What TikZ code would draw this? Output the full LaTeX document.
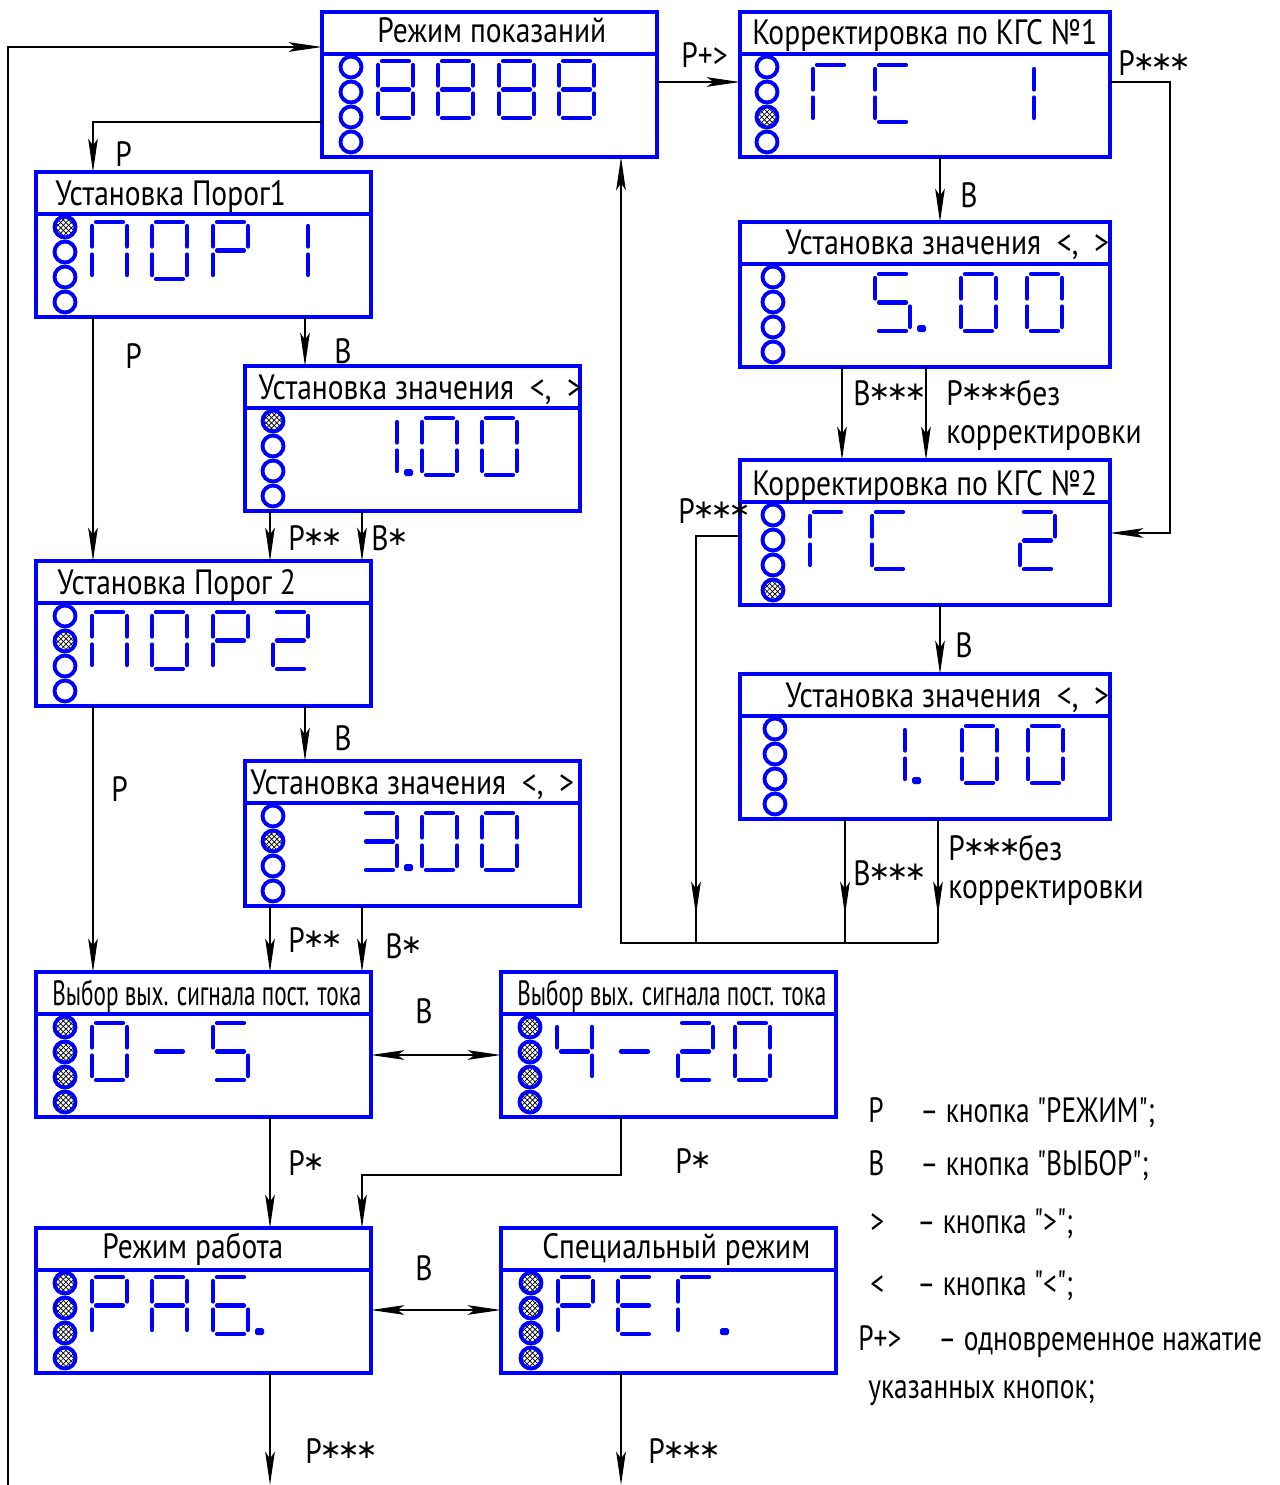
\documentclass[tikz,border=0pt]{standalone}
\usepackage{fontspec}
\setmainfont{PT Sans}[FakeStretch=0.84]
\newfontfamily\narrowfont{PT Sans}[FakeStretch=0.66]
\newfontfamily\legendfont{PT Sans}[FakeStretch=0.78]
\newfontfamily\starfont{DejaVu Sans}
\usetikzlibrary{arrows.meta,patterns,decorations.markings}

\newcommand{\sega}{\draw[seg] (4,0) -- (31,0);}
\newcommand{\segb}{\draw[seg] (35,4) -- (35,24.5);}
\newcommand{\segc}{\draw[seg] (35,32.5) -- (35,53);}
\newcommand{\segd}{\draw[seg] (4,57) -- (31,57);}
\newcommand{\sege}{\draw[seg] (0,32.5) -- (0,53);}
\newcommand{\segf}{\draw[seg] (0,4) -- (0,24.5);}
\newcommand{\segg}{\draw[seg] (4,28.5) -- (31,28.5);}
\newcommand{\segp}{\fill[blue,rounded corners=1pt] (42,51) rectangle (51,58);}
\newcommand{\segdigit}[3]{\begin{scope}[shift={(#1,#2)}]
  \foreach \s in {#3}{\csname seg\s\endcsname}\end{scope}}
\newcommand{\panel}[7]{%
  \node[panel,minimum width=#4] (#1) at (#2,#3) {};
  \draw[panel rule] ([yshift=-0.84cm]#1.north west) -- ([yshift=-0.84cm]#1.north east);
  \node[title] (#1-t) at ([xshift=#5,yshift=#6]#1.north west) {#7};}
\newcommand{\leds}[3]{%
  \foreach \st [count=\i] in {#3}
    \node[led\st] (#1-l\i) at ([xshift=#2,yshift=-0.6cm-\i*0.5cm]#1.north west) {};}
\newcommand{\astr}{{\starfont\fontsize{15}{15}\selectfont\kern-1.2pt\raisebox{2.5pt}{∗}\kern-1.2pt}}

\begin{document}
\begin{tikzpicture}[x=0.02cm,y=-0.02cm,
    panel/.style={draw=blue,line width=1.8pt,rectangle,anchor=north west,minimum height=2.9cm,outer sep=0pt,inner sep=0pt},
    panel rule/.style={blue,line width=1.8pt},
    title/.style={anchor=base west,inner sep=0pt,font=\fontsize{20}{22}\selectfont},
    seg/.style={blue,line width=2.4pt,line cap=round},
    led0/.style={circle,draw=blue,line width=2.2pt,minimum size=0.42cm,inner sep=0pt,fill=white},
    led1/.style={led0,pattern=crosshatch},
    wire/.style={line width=0.7pt},
    arr/.style={wire,-{Stealth[length=19pt,width=5.5pt,inset=4pt]}},
    dblarr/.style={wire,{Stealth[length=19pt,width=5.5pt,inset=4pt]}-{Stealth[length=19pt,width=5.5pt,inset=4pt]}},
    midtip/.style={wire,postaction=decorate,decoration={markings,mark=at position -0.56cm with {\arrow{Stealth[length=19pt,width=5.5pt,inset=4pt]}}}},
    lbl/.style={anchor=base west,inner sep=0pt,font=\fontsize{20}{22}\selectfont},
    key/.style={lbl,font=\fontsize{20}{22}\legendfont}]
  \useasboundingbox (0,0) rectangle (1279,1485);

  \panel{b1}{322}{12}{6.7cm}{1.1cm}{-0.6cm}{Режим показаний}
  \panel{b2}{740}{12}{7.4cm}{0.24cm}{-0.64cm}{Корректировка по КГС №1}
  \panel{b3}{36}{172}{6.7cm}{0.38cm}{-0.66cm}{Установка Порог1}
  \panel{b4}{245}{366}{6.7cm}{0.26cm}{-0.66cm}{Установка значения \ <, \ >}
  \panel{b5}{740}{222}{7.4cm}{0.9cm}{-0.64cm}{Установка значения \ <, \ >}
  \panel{b6}{740}{460}{7.4cm}{0.24cm}{-0.7cm}{Корректировка по КГС №2}
  \panel{b7}{36}{561}{6.7cm}{0.42cm}{-0.66cm}{Установка Порог 2}
  \panel{b8}{740}{674}{7.4cm}{0.9cm}{-0.66cm}{Установка значения \ <, \ >}
  \panel{b9}{245}{761}{6.7cm}{0.1cm}{-0.66cm}{Установка значения \ <, \ >}
  \panel{b10}{36}{972}{6.7cm}{0.32cm}{-0.66cm}{\narrowfont Выбор вых. сигнала пост. тока}
  \panel{b11}{501}{972}{6.7cm}{0.32cm}{-0.66cm}{\narrowfont Выбор вых. сигнала пост. тока}
  \panel{b12}{36}{1228}{6.7cm}{1.32cm}{-0.6cm}{Режим работа}
  \panel{b13}{501}{1228}{6.7cm}{0.82cm}{-0.6cm}{Специальный режим}

  \leds{b1}{0.58cm}{0,0,0,0}
  \leds{b2}{0.54cm}{0,0,1,0}
  \leds{b3}{0.58cm}{1,0,0,0}
  \leds{b4}{0.56cm}{1,0,0,0}
  \leds{b5}{0.66cm}{0,0,0,0}
  \leds{b6}{0.66cm}{0,0,0,1}
  \leds{b7}{0.58cm}{0,1,0,0}
  \leds{b8}{0.7cm}{0,0,0,0}
  \leds{b9}{0.56cm}{0,1,0,0}
  \leds{b10}{0.58cm}{1,1,1,1}
  \leds{b11}{0.58cm}{1,1,1,1}
  \leds{b12}{0.58cm}{1,1,1,1}
  \leds{b13}{0.6cm}{1,1,1,1}

  \segdigit{378}{61}{a,b,c,d,e,f,g}
  \segdigit{438}{61}{a,b,c,d,e,f,g}
  \segdigit{499}{61}{a,b,c,d,e,f,g}
  \segdigit{559}{61}{a,b,c,d,e,f,g}
  \segdigit{813}{65}{a,f,e}
  \segdigit{875}{65}{a,f,e,d}
  \segdigit{999}{65}{b,c}
  \segdigit{92}{222}{a,b,c,e,f}
  \segdigit{152}{222}{a,b,c,d,e,f}
  \segdigit{213}{222}{a,b,f,g,e}
  \segdigit{273}{222}{b,c}
  \segdigit{362}{418}{b,c,p}
  \segdigit{422}{418}{a,b,c,d,e,f}
  \segdigit{482}{418}{a,b,c,d,e,f}
  \segdigit{875}{274}{a,f,g,c,d,p}
  \segdigit{961}{274}{a,b,c,d,e,f}
  \segdigit{1027}{274}{a,b,c,d,e,f}
  \segdigit{810}{512}{a,f,e}
  \segdigit{872}{512}{a,f,e,d}
  \segdigit{1020}{512}{a,b,g,e,d}
  \segdigit{92}{612}{a,b,c,e,f}
  \segdigit{152}{612}{a,b,c,d,e,f}
  \segdigit{213}{612}{a,b,f,g,e}
  \segdigit{273}{612}{a,b,g,e,d}
  \segdigit{870}{726}{b,c,p}
  \segdigit{962}{726}{a,b,c,d,e,f}
  \segdigit{1028}{726}{a,b,c,d,e,f}
  \segdigit{362}{813}{a,b,g,c,d,p}
  \segdigit{422}{813}{a,b,c,d,e,f}
  \segdigit{482}{813}{a,b,c,d,e,f}
  \segdigit{92}{1023}{a,b,c,d,e,f}
  \segdigit{152}{1023}{g}
  \segdigit{213}{1023}{a,f,g,c,d}
  \segdigit{557}{1023}{f,g,b,c}
  \segdigit{617}{1023}{g}
  \segdigit{678}{1023}{a,b,g,e,d}
  \segdigit{735}{1023}{a,b,c,d,e,f}
  \segdigit{92}{1277}{a,b,f,g,e}
  \segdigit{152}{1277}{a,b,c,e,f,g}
  \segdigit{213}{1277}{a,f,g,e,d,c,p}
  \segdigit{558}{1277}{a,b,f,g,e}
  \segdigit{618}{1277}{a,f,g,e,d}
  \segdigit{678}{1277}{a,f,e,p}

  \coordinate (fb) at (8,1485);
  \coordinate (busL) at (696,943);
  \coordinate (busM) at (845,943);
  \coordinate (busR) at (938,943);
  \coordinate (busU) at (621,943);
  \coordinate (out1) at (270,1485);
  \coordinate (out2) at (621,1485);

  \draw[arr] (fb) |- (b1.west |- 0,47);
  \draw[arr] (b1.west |- 0,122) -| (93,0 |- b3.north);
  \draw[arr] (b1.east |- 0,82) -- (b2.west |- 0,82);
  \draw[arr] (b2.east |- 0,82) -| (1170,533) -- (b6.east |- 0,533);
  \draw[arr] (940,0 |- b2.south) -- (940,0 |- b5.north);
  \draw[arr] (842,0 |- b5.south) -- (842,0 |- b6.north);
  \draw[arr] (926,0 |- b5.south) -- (926,0 |- b6.north);
  \draw[arr] (940,0 |- b6.south) -- (940,0 |- b8.north);
  \draw[midtip] (b6.west |- 0,536) -| (busL);
  \draw[midtip] (845,0 |- b8.south) -- (busM);
  \draw[midtip] (938,0 |- b8.south) -- (busR);
  \draw[arr] (busR) -- (busU) -- (621,0 |- b1.south);
  \draw[arr] (93,0 |- b3.south) -- (93,0 |- b7.north);
  \draw[arr] (305,0 |- b3.south) -- (305,0 |- b4.north);
  \draw[arr] (270,0 |- b4.south) -- (270,0 |- b7.north);
  \draw[arr] (362,0 |- b4.south) -- (362,0 |- b7.north);
  \draw[arr] (93,0 |- b7.south) -- (93,0 |- b10.north);
  \draw[arr] (305,0 |- b7.south) -- (305,0 |- b9.north);
  \draw[arr] (270,0 |- b9.south) -- (270,0 |- b10.north);
  \draw[arr] (362,0 |- b9.south) -- (362,0 |- b10.north);
  \draw[dblarr] (b10.east |- 0,1055) -- (b11.west |- 0,1055);
  \draw[arr] (270,0 |- b10.south) -- (270,0 |- b12.north);
  \draw[arr] (621,0 |- b11.south) |- (362,1175) -- (362,0 |- b12.north);
  \draw[dblarr] (b12.east |- 0,1310) -- (b13.west |- 0,1310);
  \draw[arr] (270,0 |- b12.south) -- (out1);
  \draw[arr] (621,0 |- b13.south) -- (out2);

  \node[lbl] (l1) at (115,166) {Р};
  \node[lbl] (l2) at (681,67) {Р+>};
  \node[lbl] (l3) at (1118,75) {Р\astr\astr\astr};
  \node[lbl] (l4) at (960,207) {В};
  \node[lbl] (l5) at (853,405) {В\astr\astr\astr};
  \node[lbl] (l6) at (946,405) {Р\astr\astr\astr{}без};
  \node[lbl] (l7) at (946,443) {корректировки};
  \node[lbl] (l8) at (678,523) {Р\astr\astr\astr};
  \node[lbl] (l9) at (955,657) {В};
  \node[lbl] (l10) at (853,885) {В\astr\astr\astr};
  \node[lbl] (l11) at (948,860) {Р\astr\astr\astr{}без};
  \node[lbl] (l12) at (948,898) {корректировки};
  \node[lbl] (l13) at (125,368) {Р};
  \node[lbl] (l14) at (334,363) {В};
  \node[lbl] (l15) at (288,550) {Р\astr\astr};
  \node[lbl] (l16) at (371,550) {В\astr};
  \node[lbl] (l17) at (111,801) {Р};
  \node[lbl] (l18) at (334,750) {В};
  \node[lbl] (l19) at (288,952) {Р\astr\astr};
  \node[lbl] (l20) at (385,958) {В\astr};
  \node[lbl] (l21) at (415,1023) {В};
  \node[lbl] (l22) at (288,1175) {Р\astr};
  \node[lbl] (l23) at (675,1173) {Р\astr};
  \node[lbl] (l24) at (415,1280) {В};
  \node[lbl] (l25) at (305,1463) {Р\astr\astr\astr};
  \node[lbl] (l26) at (648,1463) {Р\astr\astr\astr};

  \node[key] (k1) at (868,1122) {Р};
  \node[key] (d1) at (920,1122) {– кнопка "РЕЖИМ";};
  \node[key] (k2) at (868,1175) {В};
  \node[key] (d2) at (920,1175) {– кнопка "ВЫБОР";};
  \node[key] (k3) at (870,1233) {>};
  \node[key] (d3) at (917,1233) {– кнопка ">";};
  \node[key] (k4) at (870,1295) {<};
  \node[key] (d4) at (917,1295) {– кнопка "<";};
  \node[key] (k5) at (858,1350) {Р+>};
  \node[key] (d5) at (938,1350) {– одновременное нажатие};
  \node[key] (d6) at (868,1398) {указанных кнопок;};
\end{tikzpicture}
\end{document}
